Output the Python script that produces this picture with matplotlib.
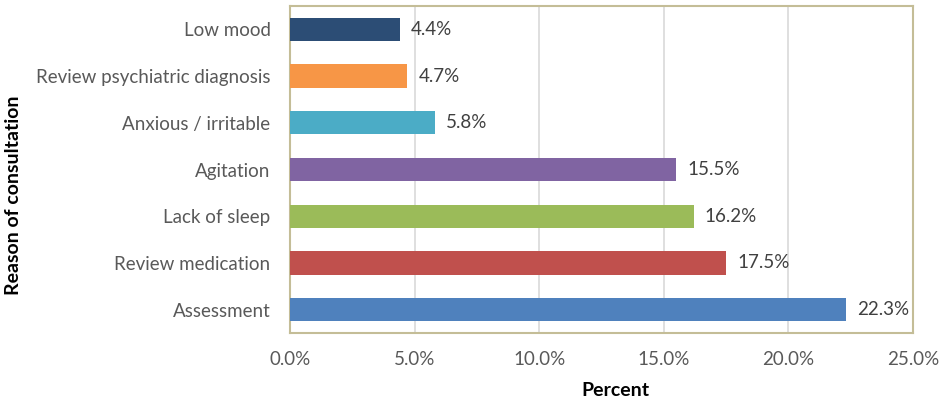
import matplotlib.pyplot as plt
from matplotlib.ticker import FuncFormatter

plt.rcParams['font.family'] = ['Lato', 'DejaVu Sans']

# data (bottom to top)
reasons = ['Assessment', 'Review medication', 'Lack of sleep', 'Agitation',
           'Anxious / irritable', 'Review psychiatric diagnosis', 'Low mood']
percent = [22.3, 17.5, 16.2, 15.5, 5.8, 4.7, 4.4]
colors = ['#4F81BD', '#C0504D', '#9BBB59', '#8064A2', '#4BACC6', '#F79646', '#2C4D75']

fig = plt.figure(figsize=(9.39, 3.99), dpi=100)
ax = fig.add_axes([290 / 939, 1 - 333 / 399, 623 / 939, 327 / 399])

bars = ax.barh(reasons, percent, height=0.5, color=colors, zorder=3)
for b, v in zip(bars, percent):
    ax.text(v + 0.45, b.get_y() + b.get_height() / 2, f'{v:.1f}%',
            va='center', ha='left', fontsize=13.5, color='#404040')

ax.set_xlim(0, 25)
ax.set_ylim(-0.5, 6.5)
ax.set_xticks([0, 5, 10, 15, 20, 25])
ax.xaxis.set_major_formatter(FuncFormatter(lambda x, p: f'{x:.1f}%'))
ax.grid(axis='x', color='#D9D9D9', linewidth=1.2, zorder=0)
ax.tick_params(length=0, labelsize=13.5, labelcolor='#595959')
ax.tick_params(axis='x', pad=13)
ax.tick_params(axis='y', pad=14)
for s in ax.spines.values():
    s.set_color('#C4BD97')
    s.set_linewidth(1.5)

ax.set_xlabel('Percent', fontsize=14, fontweight='bold')
ax.xaxis.set_label_coords(0.523, -0.15)
ax.set_ylabel('Reason of consultation', fontsize=14, fontweight='bold')
ax.yaxis.set_label_coords(-0.43, 0.42)

fig.savefig('out.png', dpi=100)
